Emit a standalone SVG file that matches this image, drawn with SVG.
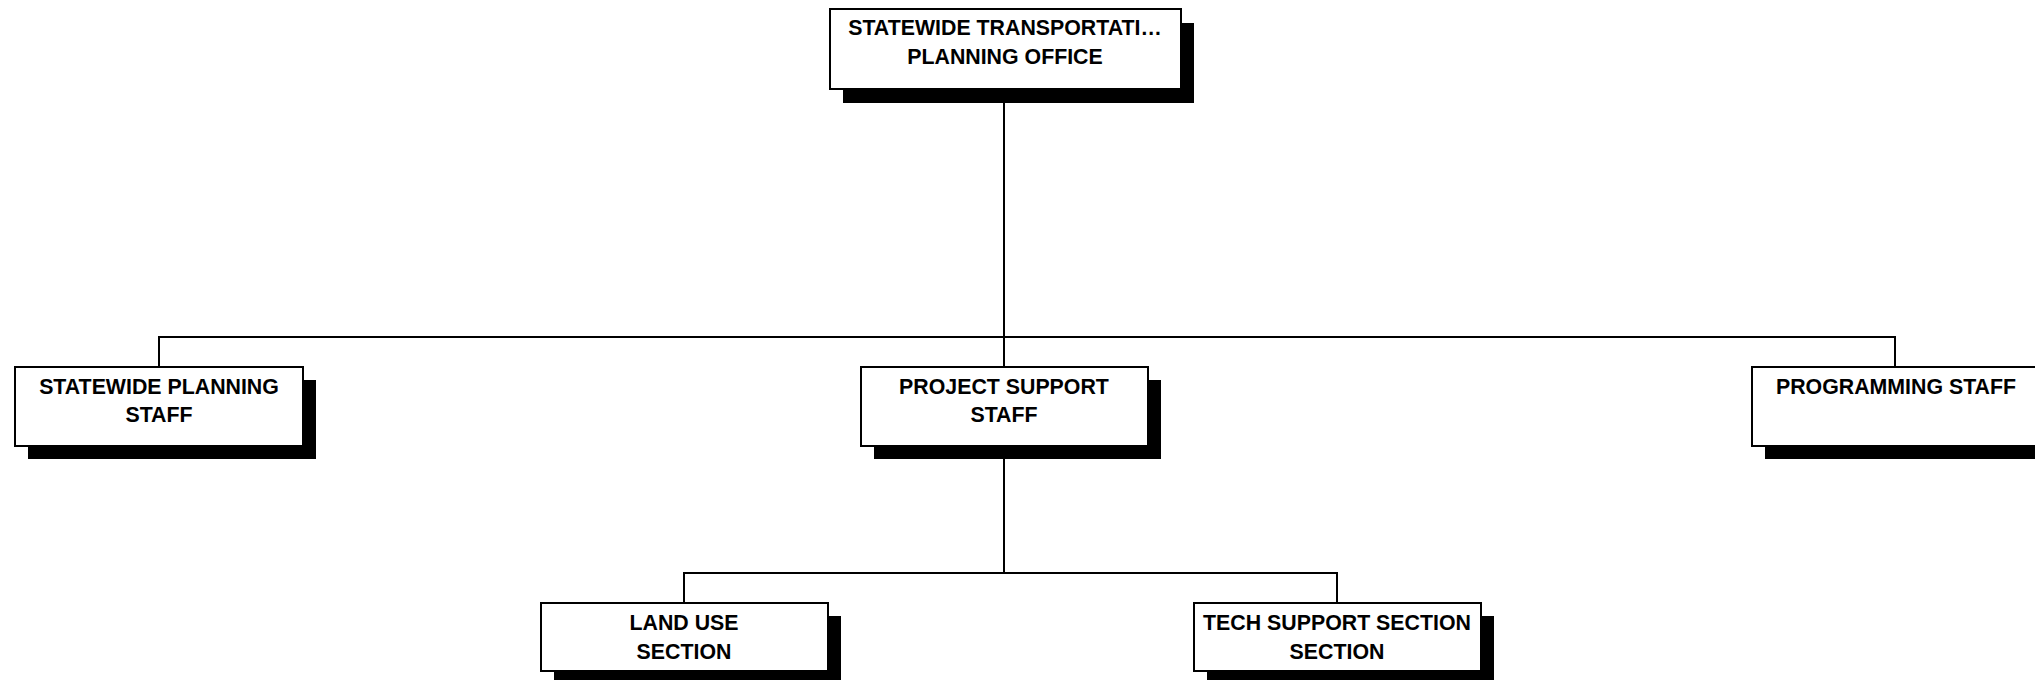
<svg xmlns="http://www.w3.org/2000/svg" width="2035" height="680" viewBox="0 0 2035 680">
<style>
.shadow{fill:#000}
.box{fill:#fff;stroke:#000;stroke-width:2}
.lbl{font-family:"Liberation Sans",Arial,sans-serif;font-weight:bold;font-size:21.33px;fill:#000;text-anchor:middle}
.conn{stroke:#000;stroke-width:2;fill:none}
</style>
<rect width="2035" height="680" fill="#fff"/>
<g id="connectors">
<path class="conn" d="M1004,89 V367"/>
<path class="conn" d="M159,367 V337 H1895 V367"/>
<path class="conn" d="M1004,446 V573"/>
<path class="conn" d="M684,603 V573 H1337 V603"/>
</g>
<g id="node-statewide-transportation">
<rect class="shadow" x="843" y="23" width="351" height="80"/>
<rect class="box" x="830" y="9" width="351" height="80"/>
<text class="lbl" x="1005" y="35">STATEWIDE TRANSPORTATI…</text>
<text class="lbl" x="1005" y="64">PLANNING OFFICE</text>
</g>
<g id="node-statewide-planning">
<rect class="shadow" x="28" y="380" width="288" height="79"/>
<rect class="box" x="15" y="367" width="288" height="79"/>
<text class="lbl" x="159" y="394">STATEWIDE PLANNING</text>
<text class="lbl" x="159" y="422">STAFF</text>
</g>
<g id="node-project-support">
<rect class="shadow" x="874" y="380" width="287" height="79"/>
<rect class="box" x="861" y="367" width="287" height="79"/>
<text class="lbl" x="1004" y="394">PROJECT SUPPORT</text>
<text class="lbl" x="1004" y="422">STAFF</text>
</g>
<g id="node-programming">
<rect class="shadow" x="1765" y="380" width="288" height="79"/>
<rect class="box" x="1752" y="367" width="288" height="79"/>
<text class="lbl" x="1896" y="394">PROGRAMMING STAFF</text>
</g>
<g id="node-land-use">
<rect class="shadow" x="554" y="616" width="287" height="68"/>
<rect class="box" x="541" y="603" width="287" height="68"/>
<text class="lbl" x="684" y="630">LAND USE</text>
<text class="lbl" x="684" y="659">SECTION</text>
</g>
<g id="node-tech-support">
<rect class="shadow" x="1207" y="616" width="287" height="68"/>
<rect class="box" x="1194" y="603" width="287" height="68"/>
<text class="lbl" x="1337" y="630">TECH SUPPORT SECTION</text>
<text class="lbl" x="1337" y="659">SECTION</text>
</g>
</svg>
